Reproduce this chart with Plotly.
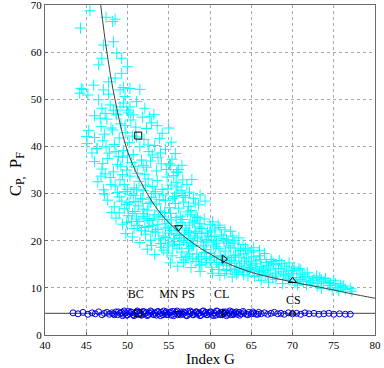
import plotly.graph_objects as go

# ---- cyan "+" cloud (Index G, C_P) ----
cloud_x = [
    45.45, 44.3, 47.4, 48.2, 48.5, 47.1, 48.3, 46.9, 48.7, 49.3, 46.5, 50.0,
    49.3, 47.7, 48.5, 44.4, 44.2, 45.9, 45.2, 47.1, 50.3, 51.5,
    47.7, 49.1, 49.5, 49.7, 46.5, 44.6,
    46.9, 47.3, 47.9, 48.3, 48.7, 49.1, 49.5, 49.9, 50.3, 50.7, 51.1, 52.1, 52.7, 46.7,
    46.0, 46.8, 47.5, 48.2, 48.6, 49.2, 49.8, 50.4, 51.0, 51.8, 52.3, 52.9, 53.6, 54.2, 55.0, 47.2, 50.1, 53.2, 45.3,
    45.1, 46.3, 47.0, 47.8, 48.4, 49.0, 49.5, 50.2, 50.7, 51.5, 52.0, 52.6, 53.3, 53.9, 54.6, 55.3, 55.8, 48.9, 51.1, 46.0,
    46.0, 46.9, 47.6, 48.3, 48.8, 49.4, 49.9, 50.5, 51.2, 51.7, 52.3, 52.8, 53.5, 54.1, 54.7, 55.4, 56.0, 56.6, 47.3, 50.0, 53.0,
    46.4, 47.1, 47.9, 48.5, 49.1, 49.7, 50.3, 50.8, 51.4, 51.9, 52.5, 53.0, 53.6, 54.2, 54.8, 55.3, 55.9, 56.5, 57.2, 49.4, 52.1, 57.8,
    47.6, 48.4, 49.0, 49.6, 50.2, 50.7, 51.3, 51.8, 52.4, 52.9, 53.5, 54.0, 54.6, 55.1, 55.7, 56.2, 56.8, 57.4, 58.0, 58.6, 50.9, 53.2, 55.9, 59.4, 58.8,
    48.6, 49.4, 50.1, 50.8, 51.4, 52.0, 52.5, 53.1, 53.7, 54.2, 54.8, 55.3, 55.9, 56.5, 57.0, 57.6, 58.1, 58.7, 59.3, 60.0, 51.7, 54.5, 57.3, 60.6,
    50.6, 51.5, 52.2, 52.8, 53.4, 54.0, 54.6, 55.1, 55.7, 56.3, 56.8, 57.4, 57.9, 58.5, 59.0, 59.6, 60.2, 60.8, 61.4, 62.0, 53.0, 55.5, 58.2, 62.7, 49.8,
    52.4, 53.3, 54.1, 54.8, 55.4, 56.0, 56.6, 57.2, 57.8, 58.4, 59.0, 59.5, 60.1, 60.7, 61.3, 61.9, 62.5, 63.1, 63.7, 64.3, 55.0, 58.0, 60.5, 65.0,
    55.2, 56.1, 57.0, 57.7, 58.3, 59.0, 59.6, 60.2, 60.8, 61.4, 62.0, 62.6, 63.2, 63.8, 64.4, 65.0, 65.6, 66.2, 66.8, 67.4, 68.0, 56.5, 61.0, 64.0,
    60.3, 61.2, 62.0, 62.7, 63.4, 64.1, 64.8, 65.4, 66.0, 66.7, 67.3, 68.0, 68.6, 69.2, 69.9, 70.5, 71.2, 71.8, 58.8, 65.7,
    66.2, 67.1, 68.0, 68.8, 69.5, 70.3, 71.0, 71.7, 72.4, 73.1, 73.8, 74.5, 75.2, 72.0, 74.0,
    73.5, 74.8, 75.6, 76.4, 77.2, 76.0,
    48.1, 49.0, 49.9, 50.5, 51.0, 51.9, 52.6, 53.3, 53.9, 54.5, 55.2, 55.8, 56.4, 57.0, 57.7, 58.3,
    51.2, 52.1, 52.7, 53.6, 54.3, 55.0, 55.6, 56.1, 56.9, 57.5, 58.1, 58.8, 59.4, 60.1, 60.6, 61.2, 61.7, 62.3, 63.0, 63.5, 54.4, 56.3, 57.4, 59.2, 60.4,
    57.5, 58.6, 59.3, 60.0, 61.6, 62.2, 62.9, 63.5, 64.1, 64.7, 65.3, 66.0, 66.6, 67.1, 67.7, 68.4, 69.0, 69.6, 70.2, 70.8, 63.0, 64.5, 66.4, 68.3,
    69.5, 70.0, 70.8, 71.5, 72.2, 72.9, 73.5, 74.3, 75.0, 75.8, 70.6, 67.6,
    45.05, 46.3, 55.2, 56.0, 56.7, 55.6,
    48.8, 49.6, 50.4, 51.1, 51.6, 52.2, 52.8, 53.4, 54.3, 54.9, 55.5, 56.1, 56.7, 57.5, 58.2, 49.3, 50.0, 47.2, 48.0, 46.8,
    49.9, 50.6, 51.1, 51.9, 52.4, 53.0, 53.8, 54.6, 55.3, 55.9, 56.7, 57.2, 57.9, 58.5, 59.0, 59.7, 60.3, 61.0, 61.8, 62.5,
    52.9, 53.8, 54.9, 55.9, 56.5, 57.2, 57.6, 58.3, 58.9, 59.8, 60.5, 61.1, 61.6, 62.2, 62.8, 63.4, 64.0, 64.6, 65.3, 66.0,
    56.8, 57.9, 58.7, 59.5, 60.5, 61.1, 61.7, 62.4, 63.0, 63.6, 64.2, 64.9, 65.5, 66.1, 66.9, 67.5, 68.7, 69.3, 70.1, 71.0,
    61.8, 62.5, 63.2, 64.0, 64.6, 65.2, 65.9, 66.5, 67.0, 67.9, 68.9, 69.7, 71.3, 72.6, 73.3, 74.6, 76.2, 75.4, 77.0, 73.0,
    47.4, 48.0, 49.7, 50.6, 52.5, 54.0, 55.1, 53.7, 51.9, 50.9, 48.6, 47.0, 45.7, 49.2, 56.2,
]
cloud_y = [
    68.8, 65.1, 67.4, 66.5, 67.0, 61.5, 62.2, 58.7, 59.8, 58.7, 57.3, 56.9,
    55.5, 53.7, 54.5, 52.3, 51.3, 53.0, 50.9, 52.0, 52.3, 52.1,
    51.1, 52.0, 52.5, 50.6, 49.9, 52.1,
    48.1, 47.0, 48.8, 47.7, 46.7, 48.4, 49.2, 47.7, 48.4, 46.7, 49.5, 48.1, 46.3, 46.0,
    46.5, 44.2, 45.8, 43.5, 46.9, 44.8, 42.9, 45.6, 44.1, 46.2, 43.8, 45.0, 44.4, 42.8, 43.9, 42.6, 47.1, 46.8, 43.4,
    40.6, 39.5, 41.2, 38.6, 40.4, 41.8, 39.1, 40.8, 38.3, 39.9, 41.5, 38.9, 40.2, 41.7, 39.4, 40.9, 38.5, 37.9, 42.0, 41.9,
    36.8, 35.2, 37.4, 34.6, 36.2, 37.7, 35.0, 36.6, 34.3, 37.1, 35.6, 36.9, 34.8, 36.3, 35.1, 37.3, 34.6, 36.0, 34.2, 38.0, 38.2,
    32.5, 30.8, 33.4, 31.6, 32.9, 30.4, 33.7, 31.2, 32.6, 30.6, 33.1, 31.5, 32.8, 30.9, 33.5, 31.8, 32.4, 30.7, 31.9, 34.0, 34.1, 33.0,
    28.6, 27.2, 29.3, 26.8, 28.1, 29.6, 27.4, 28.8, 26.5, 29.2, 27.8, 26.3, 28.5, 27.0, 29.4, 26.9, 28.2, 27.3, 29.0, 27.6, 26.2, 30.0, 30.1, 28.4, 29.7,
    24.8, 23.5, 25.3, 22.6, 24.1, 25.7, 23.0, 24.6, 22.4, 25.2, 23.7, 22.2, 24.9, 23.9, 22.7, 25.5, 24.2, 22.9, 24.6, 23.4, 22.1, 26.0, 26.1, 22.5,
    20.8, 19.6, 21.4, 20.1, 21.8, 19.4, 20.7, 21.6, 19.8, 21.1, 20.0, 21.7, 19.3, 20.6, 21.5, 19.7, 20.9, 19.5, 21.2, 20.2, 22.0, 18.9, 22.0, 21.0, 21.5,
    18.2, 17.1, 18.6, 17.4, 16.8, 18.4, 17.6, 16.7, 18.8, 17.2, 16.6, 18.1, 17.3, 18.7, 16.9, 17.8, 18.5, 17.0, 17.9, 18.4, 19.1, 19.0, 16.5, 17.6,
    15.3, 14.6, 15.9, 14.3, 15.6, 14.9, 16.2, 14.4, 15.4, 16.0, 14.7, 15.8, 14.2, 15.1, 16.3, 14.8, 15.7, 14.5, 15.4, 16.0, 14.9, 16.4, 13.9, 13.8,
    13.1, 12.6, 13.7, 12.3, 13.3, 12.8, 13.9, 12.4, 13.5, 12.9, 13.8, 12.5, 13.4, 12.7, 13.6, 12.2, 12.9, 13.2, 13.5, 14.0,
    11.6, 11.2, 11.8, 10.9, 11.9, 11.1, 11.7, 10.7, 11.5, 10.9, 11.4, 10.5, 10.9, 12.1, 12.0,
    9.9, 9.6, 9.4, 9.7, 9.3, 10.2,
    26.0, 25.9, 27.7, 24.1, 28.3, 26.7, 27.9, 25.5, 28.7, 24.5, 25.8, 27.9, 25.2, 29.2, 26.4, 25.2,
    23.2, 22.8, 24.3, 23.5, 21.0, 22.9, 20.4, 22.5, 21.3, 23.3, 21.0, 23.6, 20.3, 22.1, 20.9, 22.8, 19.9, 18.9, 19.5, 20.6, 18.0, 19.2, 18.4, 18.9, 19.1,
    17.2, 16.1, 17.5, 15.9, 15.1, 16.4, 16.8, 16.5, 17.2, 15.5, 16.6, 16.8, 17.3, 14.2, 15.2, 15.8, 14.6, 15.3, 14.4, 14.1, 13.6, 14.2, 13.2, 14.1,
    12.3, 13.0, 11.8, 12.4, 11.1, 12.5, 11.7, 11.1, 11.6, 10.6, 10.6, 12.2,
    42.1, 39.6, 36.0, 34.5, 32.9, 33.8,
    30.2, 31.9, 29.9, 30.9, 29.0, 31.8, 28.2, 30.4, 29.7, 31.0, 28.9, 31.4, 29.6, 30.3, 28.0, 28.4, 30.9, 29.9, 31.9, 33.7,
    23.9, 25.8, 24.6, 25.1, 24.7, 23.2, 25.0, 22.7, 24.4, 23.2, 24.5, 22.1, 23.8, 24.9, 22.6, 21.8, 24.0, 23.3, 22.3, 22.0,
    19.0, 20.4, 19.5, 21.4, 20.6, 19.6, 20.4, 21.6, 19.9, 21.0, 20.1, 18.3, 20.5, 19.5, 20.0, 18.4, 19.2, 18.0, 18.5, 17.9,
    15.4, 16.3, 14.8, 15.4, 16.6, 14.9, 16.6, 15.2, 15.5, 14.6, 15.7, 14.3, 15.1, 16.0, 14.8, 15.6, 15.1, 14.0, 13.6, 13.8,
    13.0, 13.9, 12.9, 13.4, 12.5, 13.6, 12.6, 13.7, 12.7, 13.1, 12.9, 11.7, 11.4, 11.9, 12.2, 10.9, 10.4, 10.0, 9.9, 10.4,
    39.9, 43.9, 44.4, 42.2, 40.3, 38.6, 36.3, 37.7, 36.0, 35.7, 38.9, 36.4, 38.6, 35.8, 35.1,
]

# ---- fitted curve ----
curve_x = [46.75, 47.5, 48.5, 50.0, 52.0, 54.0, 56.0, 58.0, 60.0, 62.0, 65.0, 68.0, 71.0, 74.0, 77.0, 80.0]
curve_y = [70.0, 60.0, 49.8, 39.0, 31.2, 25.8, 22.2, 19.4, 17.2, 15.3, 13.3, 12.0, 10.9, 9.9, 8.8, 7.8]

# ---- blue circles (P_F) ----
pf_x = [
    43.4, 44.0, 44.6, 45.2, 45.7, 46.1, 46.5, 46.9, 47.2, 47.5, 47.8, 48.1, 48.3, 48.6, 48.8, 49.1, 49.3,
    49.5, 49.7, 49.9, 50.1, 50.3, 50.5, 50.7, 50.9, 51.1, 51.3, 51.5, 51.7, 51.9, 52.1, 52.3, 52.5,
    52.7, 52.9, 53.1, 53.3, 53.5, 53.7, 53.9, 54.1, 54.3, 54.5, 54.7, 54.9, 55.1, 55.3, 55.5, 55.7,
    55.9, 56.1, 56.3, 56.5, 56.7, 56.9, 57.1, 57.3, 57.5, 57.7, 57.9, 58.1, 58.3, 58.5, 58.7, 58.9,
    59.1, 59.3, 59.5, 59.7, 59.9, 60.1, 60.3, 60.5, 60.7, 60.9, 61.1, 61.3, 61.5, 61.7, 61.9, 62.1,
    62.3, 62.5, 62.7, 62.9, 63.1, 63.3, 63.5, 63.8, 64.1, 64.4, 64.7, 65.0, 65.3, 65.6, 65.9, 66.2,
    66.6, 67.0, 67.4, 67.8, 68.2, 68.6, 69.0, 69.5, 70.0, 70.5, 71.0, 71.5, 72.0, 72.6, 73.2, 73.8,
    74.4, 75.0, 75.7, 76.4, 77.0,
    48.4, 48.9, 49.4, 49.6, 50.0, 50.4, 50.8, 51.2, 51.6, 52.0, 52.4, 52.8, 53.2, 53.6, 54.0, 54.4,
    54.8, 55.2, 55.6, 56.0, 56.4, 56.8, 57.2, 57.6, 58.0, 58.4, 58.8, 59.2, 59.6, 60.0, 60.4, 60.8,
    61.2, 61.6, 62.0, 62.4, 62.8, 63.2, 63.6, 64.0, 64.6, 65.2, 65.8,
]
pf_y = [
    4.7, 4.5, 4.8, 4.4, 4.7, 4.5, 4.9, 4.3, 4.6, 4.8, 4.4, 4.7, 4.5, 4.9, 4.3, 4.6, 4.8,
    4.4, 4.7, 4.2, 5.0, 4.5, 4.8, 4.3, 4.6, 4.9, 4.4, 4.7, 4.2, 5.0, 4.5, 4.8, 4.3,
    4.6, 4.9, 4.4, 4.7, 4.2, 5.0, 4.5, 4.8, 4.3, 4.6, 4.9, 4.4, 4.7, 4.2, 5.0, 4.5,
    4.8, 4.3, 4.6, 4.9, 4.4, 4.7, 4.2, 5.0, 4.5, 4.8, 4.3, 4.6, 4.9, 4.4, 4.7, 4.2,
    5.0, 4.5, 4.8, 4.3, 4.6, 4.9, 4.4, 4.7, 4.2, 5.0, 4.5, 4.8, 4.3, 4.6, 4.9, 4.4,
    4.7, 4.3, 4.9, 4.5, 4.7, 4.4, 4.8, 4.5, 4.7, 4.4, 4.8, 4.5, 4.6, 4.4, 4.8, 4.5,
    4.7, 4.4, 4.6, 4.8, 4.5, 4.6, 4.4, 4.7, 4.5, 4.6, 4.4, 4.7, 4.5, 4.6, 4.4, 4.5,
    4.6, 4.4, 4.5, 4.4, 4.4,
    4.3, 4.9, 4.1, 5.1, 4.3, 4.9, 4.1, 5.1, 4.3, 4.9, 4.1, 5.1, 4.3, 4.9, 4.1, 5.1,
    4.3, 4.9, 4.1, 5.1, 4.3, 4.9, 4.1, 5.1, 4.3, 4.9, 4.1, 5.1, 4.3, 4.9, 4.1, 5.1,
    4.3, 4.9, 4.1, 5.1, 4.3, 4.9, 4.2, 5.0, 4.3, 4.9, 4.4,
]
pf_level = 4.6

# ---- marked species ----
mark_names = ["BC", "MN PS", "CL", "CS"]
mark_x = [51.3, 56.2, 61.7, 70.0]
mark_cp = [42.3, 22.8, 16.1, 11.5]
mark_symbols = ["square-open", "triangle-down-open", "triangle-right-open", "triangle-up-open"]
label_x = [51.0, 56.0, 61.4, 70.1]
label_y = [8.4, 8.4, 8.4, 7.3]

x_ticks = [40, 45, 50, 55, 60, 65, 70, 75, 80]
y_ticks = [0, 10, 20, 30, 40, 50, 60, 70]

SERIF = "Liberation Serif, Times New Roman, serif"

fig = go.Figure()
fig.add_trace(go.Scatter(
    x=cloud_x, y=cloud_y, mode="markers",
    marker=dict(symbol="cross-thin", size=8, color="#00FFFF",
                line=dict(color="#00FFFF", width=1)),
    showlegend=False, hoverinfo="skip"))
fig.add_trace(go.Scatter(
    x=curve_x, y=curve_y, mode="lines",
    line=dict(color="#404040", width=1, shape="spline", smoothing=1.0),
    showlegend=False, hoverinfo="skip"))
fig.add_trace(go.Scatter(
    x=[40, 80], y=[pf_level, pf_level], mode="lines",
    line=dict(color="#404040", width=1), showlegend=False, hoverinfo="skip"))
fig.add_trace(go.Scatter(
    x=pf_x, y=pf_y, mode="markers",
    marker=dict(symbol="circle-open", size=6, color="#0000F0",
                line=dict(color="#0000F0", width=1)),
    showlegend=False, hoverinfo="skip"))
for i in range(len(mark_names)):
    fig.add_trace(go.Scatter(
        x=[mark_x[i], mark_x[i]], y=[mark_cp[i], pf_level], mode="markers",
        marker=dict(symbol=mark_symbols[i], size=7, color="black",
                    line=dict(color="black", width=1)),
        showlegend=False, hoverinfo="skip"))
fig.add_trace(go.Scatter(
    x=label_x, y=label_y, mode="text", text=mark_names,
    textfont=dict(family=SERIF, size=12, color="black"),
    showlegend=False, hoverinfo="skip"))

axis_common = dict(
    showgrid=True, gridcolor="#a8a8a8", griddash="dot", gridwidth=1,
    showline=True, linecolor="#6a6a6a", linewidth=1, mirror=True,
    ticks="inside", ticklen=3, tickcolor="#6a6a6a",
    tickfont=dict(family=SERIF, size=11, color="black"),
    zeroline=False, automargin=False, ticklabeloverflow="allow",
)
fig.update_layout(
    width=384, height=368,
    margin=dict(l=45, r=9, t=5, b=33),
    paper_bgcolor="white", plot_bgcolor="white",
    xaxis=dict(range=[40, 80], tickvals=x_ticks, ticktext=[str(v) for v in x_ticks],
               **axis_common),
    yaxis=dict(range=[0, 70], tickvals=y_ticks, ticktext=[str(v) for v in y_ticks],
               **axis_common),
    annotations=[
        dict(text="Index G", xref="paper", yref="paper", x=0.5, y=-0.072,
             xanchor="center", yanchor="middle", showarrow=False,
             font=dict(family=SERIF, size=15, color="black")),
        dict(text="C<sub>P,</sub>  P<sub>F</sub>", xref="paper", yref="paper",
             x=-0.085, y=0.49, xanchor="center", yanchor="middle", textangle=-90,
             showarrow=False, font=dict(family=SERIF, size=17, color="black")),
    ],
)
fig.write_html("out.html", config={"displayModeBar": False},
               post_script="document.body.style.margin='0';document.body.style.padding='0';")
